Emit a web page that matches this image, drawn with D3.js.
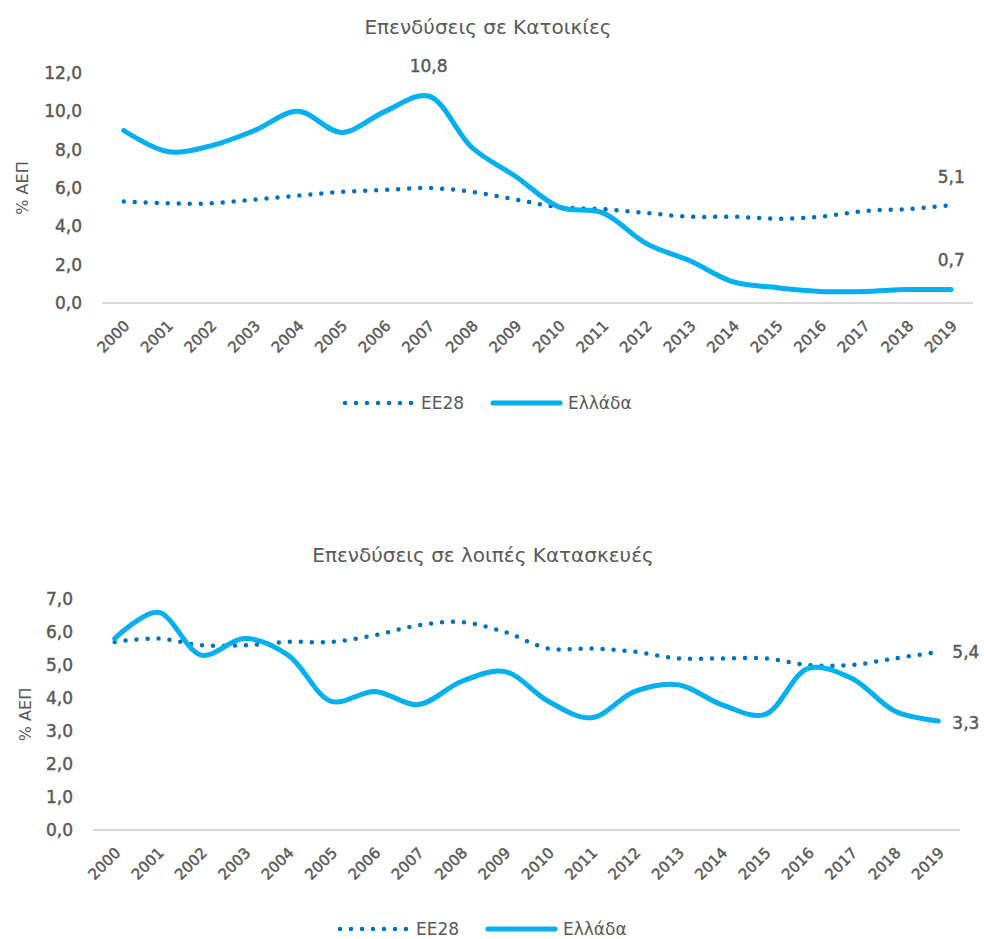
<!DOCTYPE html>
<html>
<head>
<meta charset="utf-8">
<script src="https://cdn.jsdelivr.net/npm/d3@7"></script>
<style>
  body { margin: 0; background: #fff; }
  svg text { font-family: "DejaVu Sans", sans-serif; fill: #595959; }
  svg text.num { stroke: #595959; stroke-width: 0.45px; }
</style>
</head>
<body>
<svg id="chart" width="984" height="939"></svg>
<script>
var years = ["2000", "2001", "2002", "2003", "2004", "2005", "2006", "2007", "2008", "2009",
             "2010", "2011", "2012", "2013", "2014", "2015", "2016", "2017", "2018", "2019"];

// Επενδύσεις σε Κατοικίες (% ΑΕΠ)
var housingEU = [5.3, 5.2, 5.2, 5.4, 5.6, 5.8, 5.9, 6.0, 5.8, 5.4,
                 5.0, 4.9, 4.7, 4.5, 4.5, 4.4, 4.5, 4.8, 4.9, 5.1];
var housingGR = [9.0, 7.9, 8.2, 9.0, 10.0, 8.9, 10.0, 10.8, 8.1, 6.6,
                 5.0, 4.7, 3.1, 2.2, 1.1, 0.8, 0.6, 0.6, 0.7, 0.7];
var housingTicks = [0, 2, 4, 6, 8, 10, 12];

// Επενδύσεις σε λοιπές Κατασκευές (% ΑΕΠ)
var otherEU = [5.7, 5.8, 5.6, 5.6, 5.7, 5.7, 5.9, 6.2, 6.3, 6.0,
               5.5, 5.5, 5.4, 5.2, 5.2, 5.2, 5.0, 5.0, 5.2, 5.4];
var otherGR = [5.8, 6.6, 5.3, 5.8, 5.3, 3.9, 4.2, 3.8, 4.5, 4.8,
               3.9, 3.4, 4.2, 4.4, 3.8, 3.5, 4.9, 4.6, 3.6, 3.3];
var otherTicks = [0, 1, 2, 3, 4, 5, 6, 7];

var seriesNames = ["EE28", "Ελλάδα"];
var colorEU = "#0070c0", colorGR = "#00b0f0";
var fmt = function(v) { return d3.format(".1f")(v).replace(".", ","); };

var svg = d3.select("svg#chart");

function drawChart(opt) {
    var g = svg.append("g");
    var x = d3.scalePoint().domain(years).range([opt.left, opt.right]).padding(0.5);
    var y = d3.scaleLinear().domain([0, d3.max(opt.ticks)]).range([opt.bottom, opt.top]);

    g.append("text")
        .attr("x", opt.titleX)
        .attr("y", opt.titleY)
        .attr("text-anchor", "middle")
        .style("font-size", "20px")
        .text(opt.title);

    // y tick labels, no axis line
    g.append("g")
        .selectAll("text")
        .data(opt.ticks)
        .enter()
        .append("text")
        .attr("class", "num")
        .attr("x", opt.left - 20)
        .attr("y", d => y(d))
        .attr("dy", "0.36em")
        .attr("text-anchor", "end")
        .style("font-size", "17px")
        .text(d => fmt(d));

    g.append("text")
        .attr("transform", "translate(" + opt.yTitleX + "," + (opt.top + opt.bottom) / 2 + ") rotate(-90)")
        .attr("text-anchor", "middle")
        .attr("dy", "0.35em")
        .style("font-size", "16px")
        .text("% ΑΕΠ");

    // baseline
    g.append("line")
        .attr("x1", opt.left)
        .attr("x2", opt.right)
        .attr("y1", y(0))
        .attr("y2", y(0))
        .attr("stroke", "#d9d9d9")
        .attr("stroke-width", 2);

    g.append("g")
        .selectAll("text")
        .data(years)
        .enter()
        .append("text")
        .attr("class", "num")
        .attr("transform", d => "translate(" + (x(d) + 3) + "," + (y(0) + 20) + ") rotate(-45)")
        .attr("text-anchor", "end")
        .attr("dy", "0.35em")
        .style("font-size", "15px")
        .text(d => d);

    var line = d3.line()
        .x((d, i) => x(years[i]))
        .y(d => y(d))
        .curve(d3.curveCatmullRom.alpha(0.5));

    g.append("path")
        .datum(opt.eu)
        .attr("d", line)
        .attr("fill", "none")
        .attr("stroke", colorEU)
        .attr("stroke-width", 4.5)
        .attr("stroke-linecap", "round")
        .attr("stroke-dasharray", "0,11");

    g.append("path")
        .datum(opt.gr)
        .attr("d", line)
        .attr("fill", "none")
        .attr("stroke", colorGR)
        .attr("stroke-width", 5)
        .attr("stroke-linecap", "round");

    // data labels
    g.append("g")
        .selectAll("text")
        .data(opt.labels)
        .enter()
        .append("text")
        .attr("class", "num")
        .attr("x", d => x(years[d.i]) + d.dx)
        .attr("y", d => y(d.s[d.i]) + d.dy)
        .attr("text-anchor", d => d.anchor)
        .style("font-size", "17px")
        .text(d => fmt(d.s[d.i]));

    // legend
    var lg = g.append("g")
        .attr("transform", "translate(" + opt.legendX + "," + opt.legendY + ")");
    lg.append("line")
        .attr("x1", 0).attr("x2", 70)
        .attr("stroke", colorEU)
        .attr("stroke-width", 4.5)
        .attr("stroke-linecap", "round")
        .attr("stroke-dasharray", "0,11");
    lg.append("text")
        .attr("x", 76).attr("dy", "0.36em")
        .style("font-size", "17px")
        .text(seriesNames[0]);
    lg.append("line")
        .attr("x1", 148).attr("x2", 215)
        .attr("stroke", colorGR)
        .attr("stroke-width", 5)
        .attr("stroke-linecap", "round");
    lg.append("text")
        .attr("x", 223).attr("dy", "0.36em")
        .style("font-size", "17px")
        .text(seriesNames[1]);
}

drawChart({
    title: "Επενδύσεις σε Κατοικίες",
    titleX: 488, titleY: 34,
    left: 102, right: 973, top: 73, bottom: 303,
    yTitleX: 22,
    ticks: housingTicks,
    eu: housingEU, gr: housingGR,
    labels: [
        { s: housingGR, i: 7, dx: 0, dy: -24, anchor: "middle" },
        { s: housingEU, i: 19, dx: 0, dy: -22, anchor: "middle" },
        { s: housingGR, i: 19, dx: 0, dy: -24, anchor: "middle" }
    ],
    legendX: 345, legendY: 403
});

drawChart({
    title: "Επενδύσεις σε λοιπές Κατασκευές",
    titleX: 483, titleY: 562,
    left: 93, right: 960, top: 599, bottom: 830,
    yTitleX: 25,
    ticks: otherTicks,
    eu: otherEU, gr: otherGR,
    labels: [
        { s: otherEU, i: 19, dx: 14, dy: 6, anchor: "start" },
        { s: otherGR, i: 19, dx: 14, dy: 8, anchor: "start" }
    ],
    legendX: 340, legendY: 929
});
</script>
</body>
</html>
